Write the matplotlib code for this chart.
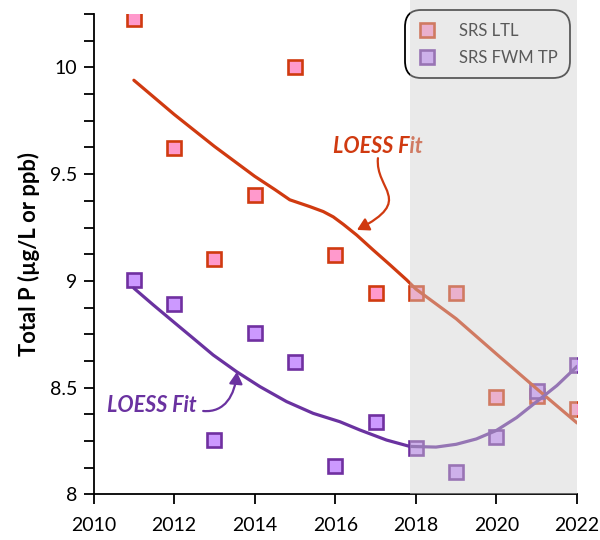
import matplotlib
matplotlib.use("Agg")
import matplotlib.pyplot as plt
import numpy as np
from matplotlib.path import Path
from matplotlib.patches import FancyArrowPatch
from matplotlib.ticker import MultipleLocator

plt.rcParams['font.family'] = ['Lato', 'DejaVu Sans']

years = [2011, 2012, 2013, 2014, 2015, 2016, 2017, 2018, 2019, 2020, 2021, 2022]
ltl_tp = [10.226, 9.622, 9.102, 9.403, 10.004, 9.122, 8.942, 8.942, 8.942, 8.458, 8.46, 8.399]
fwm_tp = [9.005, 8.891, 8.255, 8.755, 8.622, 8.135, 8.338, 8.219, 8.107, 8.271, 8.485, 8.607]

# LOESS curves
ltl_fit_x = [2011, 2012, 2013, 2014, 2014.5, 2014.87, 2015.37,
             2015.7, 2015.95, 2016.2, 2016.53, 2016.94, 2017.36, 2017.77, 2018,
             2019, 2020, 2021, 2022]
ltl_fit_y = [9.94, 9.78, 9.63, 9.49, 9.428, 9.38, 9.348,
             9.325, 9.30, 9.265, 9.215, 9.145, 9.075, 9.005, 8.962,
             8.823, 8.658, 8.495, 8.335]
fwm_fit_x = [2011, 2011.48, 2011.98, 2012.47, 2012.97, 2013.55, 2014.13, 2014.79, 2015.45,
             2016.11, 2016.61, 2017.27, 2017.85, 2018.5, 2019, 2019.5, 2020, 2020.5,
             2021, 2021.5, 2022]
fwm_fit_y = [8.966, 8.888, 8.809, 8.732, 8.653, 8.575, 8.505, 8.435, 8.38,
             8.341, 8.302, 8.255, 8.225, 8.222, 8.235, 8.26, 8.30, 8.36,
             8.435, 8.51, 8.60]

RED = '#D03A10'
RED_FACE = '#FF99CC'
PURPLE = '#7030A0'
PURPLE_FACE = '#CC99FF'
PURPLE_LINE = '#6A32A0'

fig = plt.figure(figsize=(6, 5.4), dpi=100)
ax = fig.add_axes([0.156, 0.0843, 0.8057, 0.8897])

ax.plot(years, ltl_tp, linestyle='none', marker='s', markersize=9.5,
        markerfacecolor=RED_FACE, markeredgecolor=RED, markeredgewidth=1.9,
        label='SRS LTL', zorder=3)
ax.plot(years, fwm_tp, linestyle='none', marker='s', markersize=9.5,
        markerfacecolor=PURPLE_FACE, markeredgecolor=PURPLE, markeredgewidth=1.9,
        label='SRS FWM TP', zorder=3)

ax.plot(ltl_fit_x, ltl_fit_y, color=RED, lw=2.3, zorder=4,
        solid_capstyle='round', solid_joinstyle='round')
ax.plot(fwm_fit_x, fwm_fit_y, color=PURPLE_LINE, lw=2.3, zorder=4,
        solid_capstyle='round', solid_joinstyle='round')

# annotations
ax.text(2017.06, 9.632, 'LOESS Fit', color=RED, fontsize=15.5, fontweight='bold',
        fontstyle='italic', ha='center', va='center', zorder=3)
ax.text(2011.44, 8.419, 'LOESS Fit', color=PURPLE_LINE, fontsize=15.5, fontweight='bold',
        fontstyle='italic', ha='center', va='center', zorder=3)

red_path = Path([(2017.058, 9.575), (2016.984, 9.426), (2017.977, 9.379), (2016.537, 9.239)],
                [Path.MOVETO, Path.CURVE4, Path.CURVE4, Path.CURVE4])
ax.add_patch(FancyArrowPatch(path=red_path, arrowstyle='-|>,head_length=7,head_width=4',
                             color=RED, lw=1.6, zorder=3))
pur_path = Path([(2012.72, 8.391), (2013.26, 8.382), (2013.508, 8.466), (2013.558, 8.574)],
                [Path.MOVETO, Path.CURVE4, Path.CURVE4, Path.CURVE4])
ax.add_patch(FancyArrowPatch(path=pur_path, arrowstyle='-|>,head_length=7,head_width=4',
                             color=PURPLE_LINE, lw=1.6, zorder=3))

ax.set_xlim(2010, 2022)
ax.set_ylim(8, 10.25)
ax.xaxis.set_major_locator(MultipleLocator(2))
ax.yaxis.set_minor_locator(MultipleLocator(0.125))
ax.set_yticks([8, 8.5, 9, 9.5, 10])
ax.set_yticklabels(['8', '8.5', '9', '9.5', '10'])

for s in ['top', 'right']:
    ax.spines[s].set_visible(False)
for s in ['left', 'bottom']:
    ax.spines[s].set_linewidth(1.3)
ax.tick_params(axis='both', which='major', labelsize=14, width=1.3, length=7,
               direction='out', pad=5)
ax.tick_params(axis='y', which='minor', width=1.3, length=7, direction='out')
ax.tick_params(axis='x', pad=9)

ax.set_ylabel('Total P (µg/L or ppb)', fontsize=15.8, fontweight='bold', labelpad=7)

leg = ax.legend(loc='upper right', bbox_to_anchor=(0.9855, 1.008), fontsize=12,
                frameon=True, borderpad=0.75, labelspacing=0.65, handletextpad=1.3,
                borderaxespad=0, handlelength=1.2)
frame = leg.get_frame()
frame.set_boxstyle('round,pad=0,rounding_size=1.0')
frame.set_edgecolor('black')
frame.set_linewidth(1.3)
frame.set_facecolor('white')
frame.set_alpha(None)

# shaded recent period drawn on top of everything
ax.axvspan(2017.86, 2022, ymin=0, ymax=1.03, facecolor='#d0d0d0', alpha=0.43,
           edgecolor='none', zorder=10, clip_on=False)

fig.savefig('out.png', dpi=100)
